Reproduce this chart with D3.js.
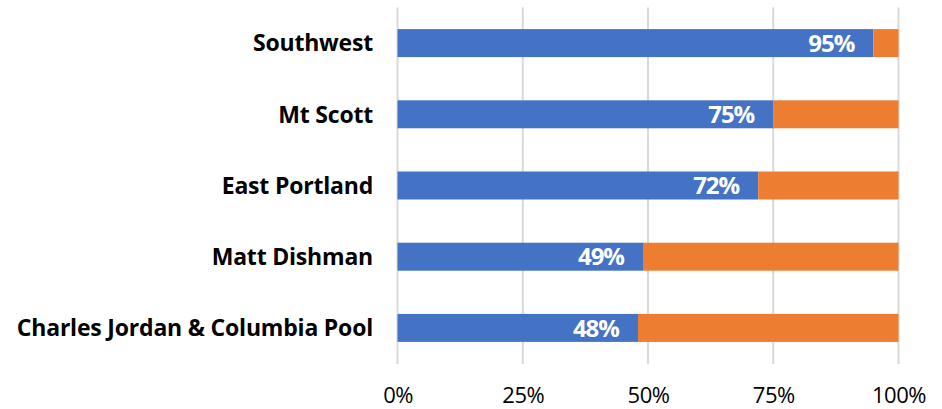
<!DOCTYPE html>
<html><head><meta charset="utf-8">
<script src="https://cdn.jsdelivr.net/npm/d3@7"></script>
<style>body{margin:0;background:#fff;}svg{display:block;}</style>
</head><body>
<svg id="c" width="942" height="409"></svg>
<script>
const categories = ["Southwest","Mt Scott","East Portland","Matt Dishman","Charles Jordan & Columbia Pool"];
const seriesA = [95, 75, 72, 49, 48];
const seriesB = [5, 25, 28, 51, 52];
const tickValues = [0, 25, 50, 75, 100];
const tickLabels = ["0%","25%","50%","75%","100%"];

const svg = d3.select("#c");
const x = d3.scaleLinear().domain([0,100]).range([397.5, 898.5]);
const y = d3.scaleBand().domain(categories).range([7.5, 363.5]).paddingInner(0.607).paddingOuter(0.3035);

// gridlines
svg.append("g").selectAll("line").data(tickValues).join("line")
  .attr("x1", d=>x(d)).attr("x2", d=>x(d)).attr("y1", 7.5).attr("y2", 364)
  .attr("stroke", "#d9d9d9").attr("stroke-width", 2);

const rows = categories.map((c,i)=>({c, a:seriesA[i], b:seriesB[i]}));
svg.append("g").selectAll("rect.a").data(rows).join("rect")
  .attr("x", x(0)).attr("y", d=>y(d.c)).attr("width", d=>x(d.a)-x(0)).attr("height", y.bandwidth())
  .attr("fill", "#4472C4");
svg.append("g").selectAll("rect.b").data(rows).join("rect")
  .attr("x", d=>x(d.a)).attr("y", d=>y(d.c)).attr("width", d=>x(d.a+d.b)-x(d.a)).attr("height", y.bandwidth())
  .attr("fill", "#ED7D31");

// data labels
svg.append("g").selectAll("text").data(rows).join("text")
  .attr("x", d=>x(d.a)-19).attr("y", d=>y(d.c)+y.bandwidth()/2)
  .attr("dy", "0.36em").attr("text-anchor", "end")
  .attr("fill", "#fff").attr("font-family", "'Open Sans', sans-serif").attr("font-weight", "bold").attr("font-size", 24)
  .attr("letter-spacing", -1)
  .text(d=>d.a + "%");

// y axis labels
const yAxis = d3.axisLeft(y).tickSize(0).tickPadding(0);
const gy = svg.append("g").attr("transform", `translate(373,0)`).call(yAxis);
gy.select(".domain").remove();
gy.selectAll("text").attr("font-family", "'Open Sans', sans-serif").attr("font-weight", "bold").attr("font-size", 23)
  .attr("letter-spacing", -0.2).attr("fill", "#000").attr("dy","0.36em");

// x axis labels
const xAxis = d3.axisBottom(x).tickValues(tickValues).tickFormat((d,i)=>tickLabels[i]).tickSize(0).tickPadding(0);
const gx = svg.append("g").attr("transform", `translate(0,403)`).call(xAxis);
gx.select(".domain").remove();
gx.selectAll("text").attr("font-family", "'Open Sans', sans-serif").attr("font-size", 22)
  .attr("letter-spacing", -0.5).attr("fill", "#000").attr("dy","0");
</script>
</body></html>
